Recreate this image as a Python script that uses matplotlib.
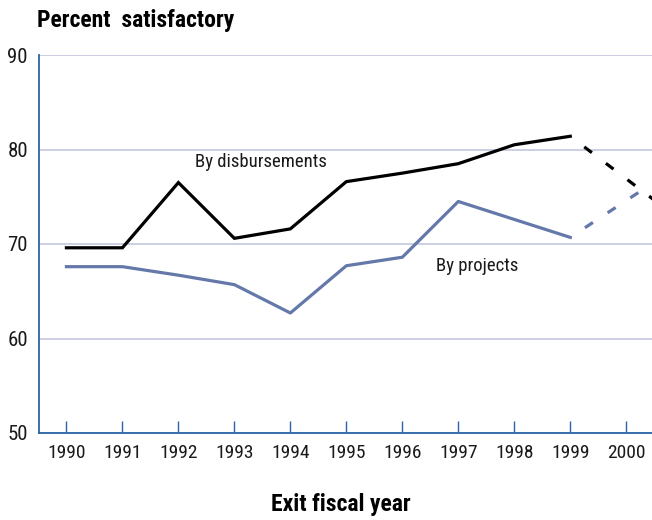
import matplotlib
matplotlib.use('Agg')
import matplotlib.pyplot as plt

# data
years = [1990, 1991, 1992, 1993, 1994, 1995, 1996, 1997, 1998, 1999]
by_disbursements = [69.6, 69.6, 76.5, 70.6, 71.6, 76.6, 77.5, 78.5, 80.5, 81.4]
by_projects = [67.6, 67.6, 66.7, 65.7, 62.7, 67.7, 68.6, 74.5, 72.6, 70.7]

# projected part (dashed), runs off the right edge of the plot
proj_years = [1999, 2000, 2001]
proj_disbursements = [81.4, 76.9, 72.4]
proj_projects = [70.7, 74.6, 78.5]

xticks = list(range(1990, 2001))
yticks = [50, 60, 70, 80, 90]

plt.rcParams['font.family'] = ['Roboto Condensed', 'DejaVu Sans']

BLACK = '#000000'
BLUE = '#6479aa'
SPINE = '#2b64a4'
GRID = '#c3c7de'
TEXT = '#1a1a1a'

fig = plt.figure(figsize=(6.52, 5.20), dpi=100)
ax = fig.add_axes([39 / 652, 1 - 433 / 520, 1 - 39 / 652, (433 - 55) / 520])

ax.plot(years, by_disbursements, color=BLACK, lw=2.3, solid_joinstyle='miter')
ax.plot(years, by_projects, color=BLUE, lw=2.3)
ax.plot(proj_years, proj_disbursements, color=BLACK, lw=2.3,
        linestyle=(3, (3, 5.5)), dash_capstyle='butt')
ax.plot(proj_years, proj_projects, color=BLUE, lw=2.3,
        linestyle=(3, (3, 5.5)), dash_capstyle='butt')

ax.set_xlim(1989.51, 2000.46)
ax.set_ylim(50, 90)
ax.set_xticks(xticks)
ax.set_yticks(yticks)
ax.set_xticklabels([str(y) for y in xticks], fontsize=14)
ax.set_yticklabels([str(v) for v in yticks], fontsize=15)

ax.yaxis.grid(True, color=GRID, lw=1.2)
ax.set_axisbelow(True)
for side in ('top', 'right'):
    ax.spines[side].set_visible(False)
for side in ('left', 'bottom'):
    ax.spines[side].set_color(SPINE)
    ax.spines[side].set_linewidth(1.3)

ax.tick_params(axis='x', direction='in', length=9, width=1, color=SPINE,
               pad=8, labelcolor=TEXT)
ax.tick_params(axis='y', length=0, pad=8, labelcolor=TEXT)

ax.text(1992.3, 78.7, 'By disbursements', fontsize=13.5,
        color=TEXT, va='center', ha='left')
ax.text(1996.6, 67.7, 'By projects', fontsize=13.5,
        color=TEXT, va='center', ha='left')

fig.text(37 / 652, 1 - 20 / 520, 'Percent  satisfactory', fontsize=17,
         fontweight='bold', va='center', ha='left')
fig.text(341 / 652, 1 - 505 / 520, 'Exit fiscal year', fontsize=17,
         fontweight='bold', va='center', ha='center')

fig.savefig('out.png', dpi=100)
